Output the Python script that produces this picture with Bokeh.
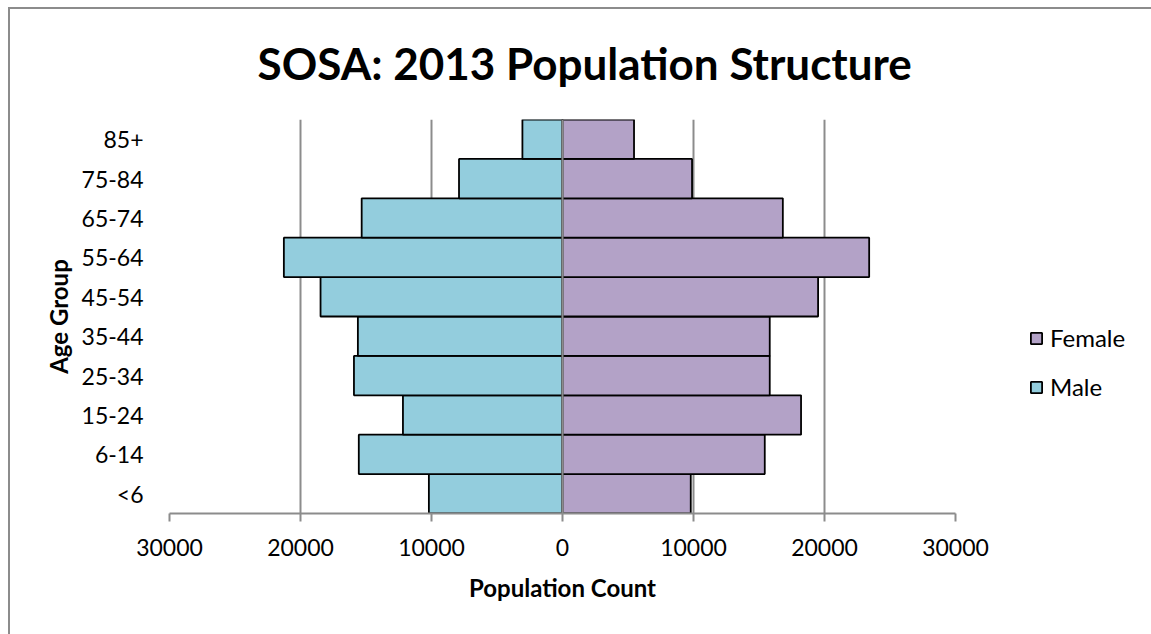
from bokeh.plotting import figure
from bokeh.models import FactorRange, FixedTicker, Legend, LegendItem, Span
from bokeh.embed import file_html
from bokeh.resources import INLINE

# Population by age group, 2013
age_groups = ["<6", "6-14", "15-24", "25-34", "35-44", "45-54", "55-64", "65-74", "75-84", "85+"]
male = [10200, 15550, 12180, 15920, 15620, 18470, 21270, 15330, 7900, 3060]
female = [9790, 15440, 18210, 15820, 15820, 19510, 23410, 16820, 9890, 5460]

x_tick_values = [-30000, -20000, -10000, 0, 10000, 20000, 30000]
x_tick_labels = ["30000", "20000", "10000", "0", "10000", "20000", "30000"]

male_color = "#93CDDD"
female_color = "#B3A2C7"
grey = "#8c8c8c"
font = "Lato"

male_left = [-v for v in male]

# the chart's frame line (left and top edges) is painted as the page background
# behind a transparent canvas border
frame_css = {
    "background-color": "white",
    "background-image": f"linear-gradient({grey}, {grey}), linear-gradient({grey}, {grey})",
    "background-size": "2px 100%, 100% 2px",
    "background-position": "8px 7px, 8px 7px",
    "background-repeat": "no-repeat",
}

p = figure(
    width=1151, height=634,
    x_range=(-30000, 30000),
    y_range=FactorRange(factors=age_groups, range_padding=0),
    output_backend="svg", toolbar_location=None,
    min_border_left=169, min_border_top=119, min_border_right=196, min_border_bottom=121,
    frame_width=786, frame_height=394,
    styles=frame_css,
)
p.outline_line_color = None
p.background_fill_color = "white"
p.border_fill_alpha = 0

# title
p.title.text = "SOSA: 2013 Population Structure"
p.title.text_font = font
p.title.text_font_size = "44px"
p.title.text_font_style = "bold"
p.title.text_color = "black"
p.title.align = "left"
p.title.offset = 88
p.title.standoff = 62

# bars
m = p.hbar(y=age_groups, left=male_left, right=0, height=1.0,
           fill_color=male_color, line_color="black", line_width=1.8)
f = p.hbar(y=age_groups, left=0, right=female, height=1.0,
           fill_color=female_color, line_color="black", line_width=1.8)

# vertical axis line at zero, drawn over the bars
p.add_layout(Span(location=0, dimension="height", line_color=grey, line_width=2))

# x axis
xa = p.xaxis[0]
xa.ticker = FixedTicker(ticks=x_tick_values)
xa.major_label_overrides = {v: s for v, s in zip(x_tick_values, x_tick_labels)}
xa.axis_line_color = grey
xa.axis_line_width = 2
xa.major_tick_line_color = grey
xa.major_tick_line_width = 2
xa.major_tick_out = 8
xa.major_tick_in = 0
xa.minor_tick_line_color = None
xa.major_label_text_font = font
xa.major_label_text_font_size = "23px"
xa.major_label_text_color = "black"
xa.major_label_standoff = 17
xa.axis_label = "Population Count"
xa.axis_label_text_font = font
xa.axis_label_text_font_size = "24px"
xa.axis_label_text_font_style = "bold"
xa.axis_label_text_color = "black"
xa.axis_label_standoff = 14

# y axis
ya = p.yaxis[0]
ya.axis_line_color = None
ya.major_tick_line_color = None
ya.minor_tick_line_color = None
ya.major_label_text_font = font
ya.major_label_text_font_size = "23px"
ya.major_label_text_color = "black"
ya.major_label_standoff = 20
ya.axis_label = "Age Group"
ya.axis_label_text_font = font
ya.axis_label_text_font_size = "24px"
ya.axis_label_text_font_style = "bold"
ya.axis_label_text_color = "black"
ya.axis_label_standoff = 6

# grid
p.xgrid.grid_line_color = grey
p.xgrid.grid_line_width = 2
p.xgrid.ticker = FixedTicker(ticks=x_tick_values)
p.ygrid.grid_line_color = None

# legend
legend = Legend(
    items=[LegendItem(label="Female", renderers=[f]), LegendItem(label="Male", renderers=[m])],
    location=(74, 112),
    label_text_font=font, label_text_font_size="24px", label_text_color="black",
    glyph_width=14, glyph_height=14, label_height=24, spacing=20, label_standoff=7,
    padding=0, margin=0, border_line_color=None, background_fill_alpha=0,
)
p.add_layout(legend, "right")

open("out.html", "w").write(file_html(p, INLINE))
